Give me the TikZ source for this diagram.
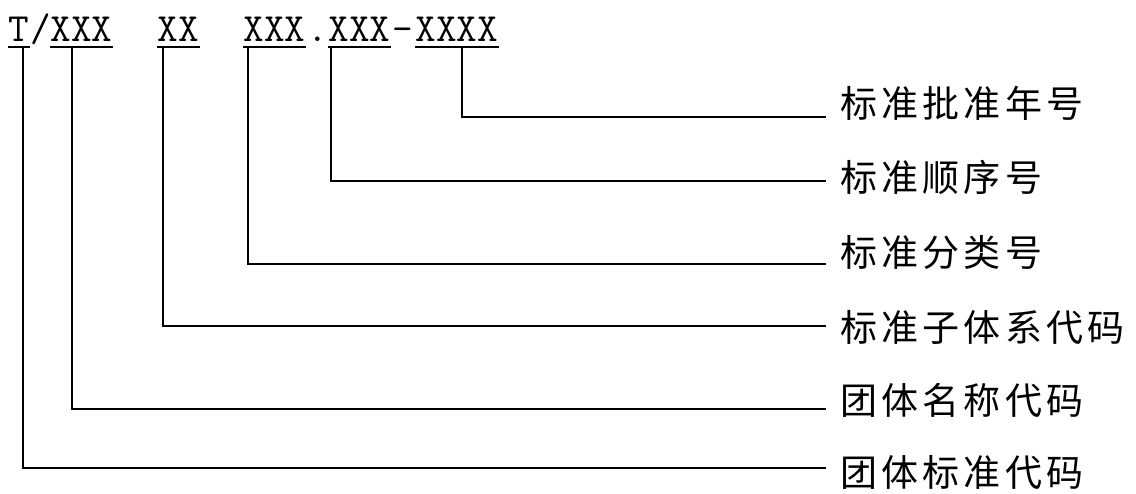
\documentclass[tikz,border=0pt]{standalone}
\usepackage{fontspec}
\newfontfamily\cjk[LetterSpace=11]{Noto Sans CJK SC}

\begin{document}
\begin{tikzpicture}[x=1pt,y=1pt,line width=1.5pt,
  code/.style={inner sep=0pt,anchor=base west,font=\fontsize{40}{40}\selectfont\ttfamily},
  lbl/.style={inner sep=0pt,anchor=west,font=\fontsize{37}{37}\selectfont\cjk}]
  \useasboundingbox (0,0) rectangle (1136,493);
  % the code string
  \node[code] (t) at (8,451) {T};
  \node[code] (sl) at (t.base east) {/};
  \node[code] (org) at (50,451) {XXX};
  \node[code] (sub) at (157,451) {XX};
  \node[code] (cls) at (243,451) {XXX};
  \node[code] (dot) at (cls.base east) {.};
  \node[code] (seq) at (328,451) {XXX};
  \node[code] (dash) at (seq.base east) {-};
  \node[code] (yr) at (415,451) {XXXX};
  \foreach \n in {t,org,sub,cls,seq,yr}
    \draw ([yshift=-5pt]\n.base west) -- ([yshift=-5pt]\n.base east);
  % taps under the underlines
  \foreach \n/\dx in {t/15,org/22,sub/6,cls/5,seq/3,yr/47}
    \coordinate (\n-tap) at ([xshift=\dx pt,yshift=-5pt]\n.base west);
  % labels and leaders
  \foreach \n/\ly/\ty/\txt in {yr/376/390/标准批准年号,seq/312/316/标准顺序号,
      cls/229/241/标准分类号,sub/167/166/标准子体系代码,
      org/84/93/团体名称代码,t/25/21/团体标准代码} {
    \node[lbl] (\n-lbl) at (840,\ty) {\txt};
    \coordinate (\n-end) at (826,\ly);
    \draw (\n-tap) |- (\n-end);
  }
\end{tikzpicture}
\end{document}
